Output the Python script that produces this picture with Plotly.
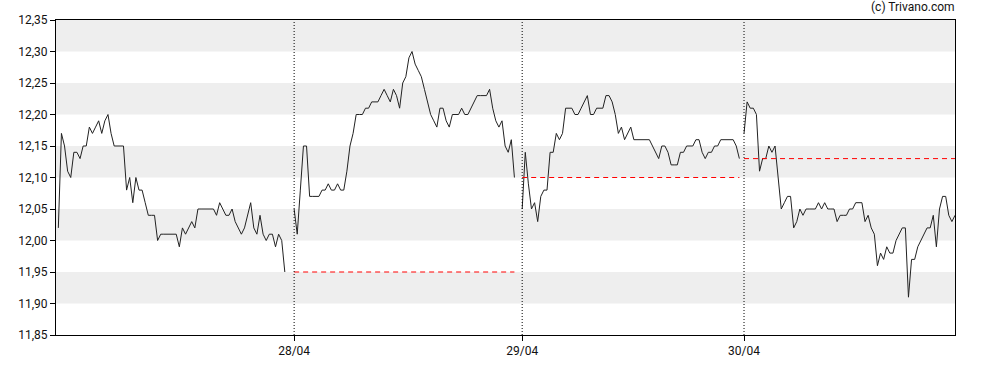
import plotly.graph_objects as go
import numpy as np

# ---- data ----
day_labels = ["27/04", "28/04", "29/04", "30/04"]
day_start_slot = [0, 76, 149.5, 221]   # time-slot position of each session's first quote

day1 = [12.02, 12.17, 12.15, 12.11, 12.10, 12.14, 12.14, 12.13, 12.15, 12.15,
        12.18, 12.17, 12.18, 12.19, 12.17, 12.19, 12.20, 12.17, 12.15, 12.15,
        12.15, 12.15, 12.08, 12.10, 12.06, 12.10, 12.08, 12.08, 12.06, 12.04,
        12.04, 12.04, 12.00, 12.01, 12.01, 12.01, 12.01, 12.01, 12.01, 11.99,
        12.02, 12.01, 12.02, 12.03, 12.02, 12.05, 12.05, 12.05, 12.05, 12.05,
        12.05, 12.04, 12.06, 12.05, 12.04, 12.04, 12.05, 12.03, 12.02, 12.01,
        12.02, 12.04, 12.06, 12.02, 12.01, 12.04, 12.01, 12.00, 12.01, 12.01,
        11.99, 12.01, 12.00, 11.95]

day2 = [12.05, 12.01, 12.08, 12.15, 12.15, 12.07, 12.07, 12.07, 12.07, 12.08,
        12.08, 12.09, 12.08, 12.08, 12.09, 12.08, 12.08, 12.11, 12.15, 12.17,
        12.20, 12.20, 12.20, 12.21, 12.21, 12.22, 12.22, 12.22, 12.23, 12.24,
        12.23, 12.22, 12.24, 12.23, 12.21, 12.25, 12.26, 12.29, 12.30, 12.28,
        12.27, 12.26, 12.24, 12.22, 12.20, 12.19, 12.18, 12.21, 12.21, 12.19,
        12.18, 12.20, 12.20, 12.20, 12.21, 12.20, 12.20, 12.21, 12.22, 12.23,
        12.23, 12.23, 12.23, 12.24, 12.21, 12.19, 12.18, 12.19, 12.15, 12.14,
        12.16, 12.10]

day3 = [12.05, 12.14, 12.09, 12.05, 12.06, 12.03, 12.07, 12.08, 12.08, 12.14,
        12.14, 12.17, 12.16, 12.17, 12.21, 12.21, 12.21, 12.20, 12.20, 12.21,
        12.22, 12.23, 12.20, 12.20, 12.21, 12.21, 12.21, 12.23, 12.23, 12.22,
        12.20, 12.17, 12.18, 12.16, 12.17, 12.18, 12.16, 12.16, 12.16, 12.16,
        12.16, 12.16, 12.15, 12.14, 12.13, 12.15, 12.15, 12.14, 12.12, 12.12,
        12.12, 12.14, 12.14, 12.15, 12.15, 12.15, 12.16, 12.16, 12.14, 12.13,
        12.14, 12.14, 12.15, 12.15, 12.16, 12.16, 12.16, 12.16, 12.16, 12.15,
        12.13]

day4 = [12.17, 12.22, 12.21, 12.21, 12.20, 12.11, 12.13, 12.13, 12.15, 12.14,
        12.15, 12.10, 12.05, 12.06, 12.07, 12.07, 12.02, 12.03, 12.05, 12.04,
        12.05, 12.05, 12.05, 12.05, 12.06, 12.05, 12.06, 12.05, 12.05, 12.05,
        12.03, 12.04, 12.04, 12.04, 12.05, 12.05, 12.06, 12.06, 12.06, 12.03,
        12.04, 12.02, 12.01, 11.96, 11.98, 11.97, 11.99, 11.98, 11.98, 12.00,
        12.01, 12.02, 12.02, 11.91, 11.97, 11.97, 11.99, 12.00, 12.01, 12.02,
        12.02, 12.04, 11.99, 12.05, 12.07, 12.07, 12.04, 12.03, 12.04]

sessions = [day1, day2, day3, day4]
prev_close = [None, 11.95, 12.10, 12.13]   # previous-day close reference lines

y_min, y_max, y_step = 11.85, 12.35, 0.05
band_edges = [(11.90, 11.95), (12.00, 12.05), (12.10, 12.15), (12.20, 12.25), (12.30, 12.35)]
x_end_slot = 289

fig = go.Figure()

for start, vals in zip(day_start_slot, sessions):
    xs = start + np.arange(len(vals))
    fig.add_trace(go.Scatter(x=xs, y=vals, mode="lines",
                             line=dict(color="#222222", width=1),
                             hoverinfo="skip", showlegend=False))

for i, pc in enumerate(prev_close):
    if pc is None:
        continue
    x0 = day_start_slot[i]
    x1 = day_start_slot[i] + len(sessions[i]) - 1
    fig.add_trace(go.Scatter(x=[x0, x1], y=[pc, pc], mode="lines",
                             line=dict(color="#ff0000", width=1, dash="5px,4px"),
                             hoverinfo="skip", showlegend=False))

shapes = []
for lo, hi in band_edges:
    shapes.append(dict(type="rect", xref="paper", yref="y", x0=0, x1=1, y0=lo, y1=hi,
                       fillcolor="#eeeeee", line=dict(width=0), layer="below"))
for s in day_start_slot[1:]:
    shapes.append(dict(type="line", xref="x", yref="paper", x0=s, x1=s, y0=0, y1=1,
                       line=dict(color="#000000", width=1, dash="1px,2px"), layer="above"))

fig.update_layout(
    width=988, height=370,
    margin=dict(l=56, r=33, t=20, b=35, autoexpand=False),
    paper_bgcolor="white", plot_bgcolor="white",
    separators=",.",
    font=dict(family="Roboto, Arial, sans-serif", size=12, color="#111111"),
    shapes=shapes,
    hovermode=False,
    annotations=[dict(text="(c) Trivano.com", xref="paper", yref="paper",
                      x=1.0, y=1.0, xanchor="right", yanchor="bottom", yshift=4, xshift=2,
                      showarrow=False, font=dict(size=12, color="#111111"))],
    xaxis=dict(range=[-0.75, x_end_slot], showgrid=False, zeroline=False, automargin=False,
               tickmode="array", tickvals=day_start_slot[1:], ticktext=day_labels[1:],
               ticks="outside", ticklen=5, tickcolor="#000000",
               showline=True, linecolor="#000000", linewidth=1, mirror=True),
    yaxis=dict(range=[y_min, y_max], dtick=y_step, tick0=y_min, tickformat=".2f",
               showgrid=False, zeroline=False, automargin=False,
               ticks="outside", ticklen=5, tickcolor="#000000",
               showline=True, linecolor="#000000", linewidth=1, mirror=True),
)

# remove the default 8px page margin so the figure sits at the window's top-left corner
fig.write_html("out.html", config={"displayModeBar": False},
               post_script="document.body.style.margin='0';")
